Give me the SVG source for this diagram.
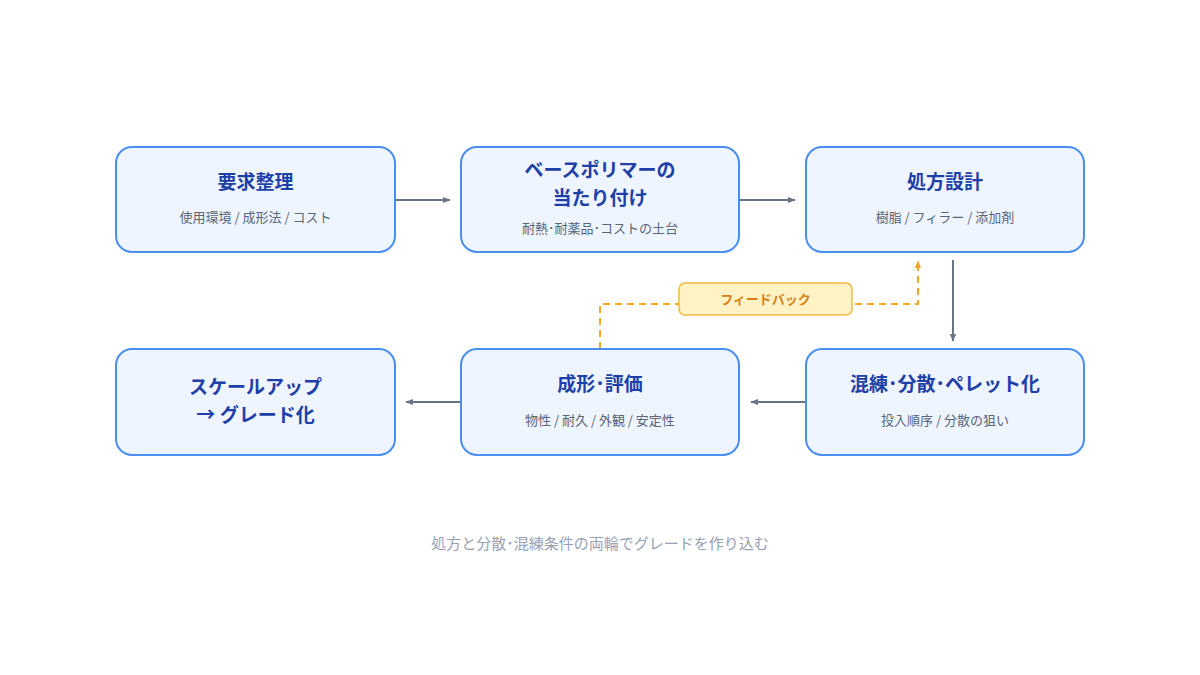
<svg xmlns="http://www.w3.org/2000/svg" width="1200" height="675" viewBox="0 0 1200 675">
<style>
.n{fill:#eef5ff;stroke:#4a8ef0;stroke-width:2}
.t{font-family:"Noto Sans CJK JP",sans-serif;font-weight:bold;font-size:19px;fill:#1e3fa8;text-anchor:middle}
.s{font-family:"Noto Sans CJK JP",sans-serif;font-size:13px;fill:#5b6478;text-anchor:middle}
.c{stroke:#687386;stroke-width:2;fill:none}
</style>
<defs>
<marker id="a" viewBox="0 0 10 10" refX="9" refY="5" markerWidth="8" markerHeight="8" orient="auto" markerUnits="userSpaceOnUse"><path d="M0,1L10,5L0,9z" fill="#687386"/></marker>
<marker id="o" viewBox="0 0 10 10" refX="9" refY="5" markerWidth="8" markerHeight="8" orient="auto" markerUnits="userSpaceOnUse"><path d="M0,1L10,5L0,9z" fill="#f5a623"/></marker>
</defs>
<rect width="1200" height="675" fill="#fff"/>
<g id="connectors">
<path class="c" d="M396 200H450" marker-end="url(#a)"/>
<path class="c" d="M740 200H795" marker-end="url(#a)"/>
<path class="c" d="M953 260V341" marker-end="url(#a)"/>
<path class="c" d="M805 402H751" marker-end="url(#a)"/>
<path class="c" d="M460 402H406" marker-end="url(#a)"/>
<path d="M600 349V304H918V261" stroke="#f5a623" stroke-width="2" fill="none" stroke-dasharray="7 5" marker-end="url(#o)"/>
<rect x="679" y="283" width="173" height="32" rx="6" fill="#fff2c4" stroke="#f5b942" stroke-width="1.5"/>
<text x="765.5" y="304" font-family="'Noto Sans CJK JP',sans-serif" font-weight="bold" font-size="13" fill="#d9821a" text-anchor="middle">フィードバック</text>
</g>
<g id="n1"><rect class="n" x="116" y="147" width="279" height="105" rx="16"/><text class="t" x="255.5" y="189">要求整理</text><text class="s" x="255.5" y="222">使用環境 / 成形法 / コスト</text></g>
<g id="n2"><rect class="n" x="461" y="147" width="278" height="105" rx="16"/><text class="t" x="600" y="177">ベースポリマーの</text><text class="t" x="600" y="205">当たり付け</text><text class="s" x="600" y="233">耐熱･耐薬品･コストの土台</text></g>
<g id="n3"><rect class="n" x="806" y="147" width="278" height="105" rx="16"/><text class="t" x="945" y="189">処方設計</text><text class="s" x="945" y="222">樹脂 / フィラー / 添加剤</text></g>
<g id="n4"><rect class="n" x="806" y="349" width="278" height="106" rx="16"/><text class="t" x="945" y="391">混練･分散･ペレット化</text><text class="s" x="945" y="425">投入順序 / 分散の狙い</text></g>
<g id="n5"><rect class="n" x="461" y="349" width="278" height="106" rx="16"/><text class="t" x="600" y="391">成形･評価</text><text class="s" x="600" y="425">物性 / 耐久 / 外観 / 安定性</text></g>
<g id="n6"><rect class="n" x="116" y="349" width="279" height="106" rx="16"/><text class="t" x="255.5" y="394">スケールアップ</text><text class="t" x="255.5" y="422">→ グレード化</text></g>
<text x="600" y="549" font-family="'Noto Sans CJK JP',sans-serif" font-size="15" fill="#97a0b4" text-anchor="middle">処方と分散･混練条件の両輪でグレードを作り込む</text>
</svg>
